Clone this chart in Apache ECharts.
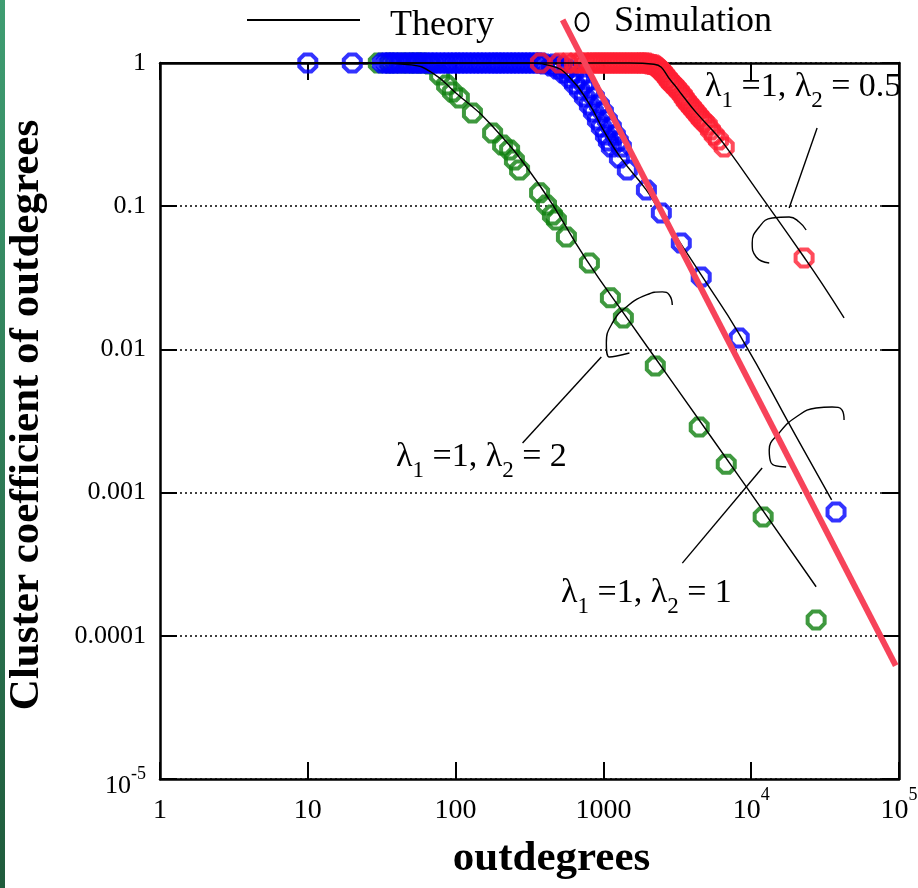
<!DOCTYPE html>
<html>
<head>
<meta charset="utf-8">
<script src="https://cdn.jsdelivr.net/npm/echarts@6/dist/echarts.min.js"></script>
<style>
html,body{margin:0;padding:0;background:#fff;}
#chart{width:918px;height:888px;}
</style>
</head>
<body>
<div id="chart"></div>
<script>
// simulation points (outdegree, cluster coefficient)
const greenSimX = [30, 36, 42, 48, 54, 60, 66.7, 78, 86.9, 95.4, 106, 130, 178, 208, 232, 250, 271, 370, 412, 452, 481, 562, 804, 1115, 1365, 2245, 4450, 6780, 12050, 27500];
const greenSimY = [1, 1, 1, 1, 1, 1, 0.984, 0.824, 0.702, 0.627, 0.570, 0.448, 0.324, 0.267, 0.247, 0.210, 0.179, 0.124, 0.102, 0.0868, 0.080, 0.061, 0.0401, 0.0229, 0.0166, 0.00766, 0.00287, 0.00158, 0.000676, 0.000129];

const blueSimX = [10, 20, 32, 34, 36, 38, 40, 43, 46, 49, 52, 55, 58, 62, 66, 70, 74, 79, 84, 89, 95, 100, 106, 112, 119, 126, 134, 142, 150, 160, 170, 180, 190, 200, 212, 225, 238, 252, 267, 283, 300, 318, 337, 357, 378,
  399, 445, 489, 537, 589, 637, 689, 744, 804, 856, 911, 969, 1032, 1081, 1132, 1283, 1452, 1954, 2466, 3365, 4590, 8300, 37500];
const blueSimY = [1, 1, 1, 1, 1, 1, 1, 1, 1, 1, 1, 1, 1, 1, 1, 1, 1, 1, 1, 1, 1, 1, 1, 1, 1, 1, 1, 1, 1, 1, 1, 1, 1, 1, 1, 1, 1, 1, 1, 1, 1, 1, 1, 1, 1,
  0.984, 0.953, 0.908, 0.851, 0.786, 0.713, 0.648, 0.579, 0.509, 0.455, 0.400, 0.357, 0.314, 0.285, 0.259, 0.217, 0.179, 0.130, 0.0897, 0.0553, 0.032, 0.012, 0.000732];
// second, slightly later stream of the scattered blue band
const blueBandX = [467, 520, 571, 627, 689, 744, 804, 869, 940, 1000, 1064, 1132, 1205, 1262, 1323];
const blueBandY = [0.984, 0.953, 0.908, 0.851, 0.786, 0.713, 0.648, 0.579, 0.509, 0.455, 0.400, 0.357, 0.314, 0.285, 0.259];

const redSimX = [375, 504, 570, 637, 690, 744, 785, 829, 870, 911, 955, 1000, 1050, 1099, 1150, 1205, 1260, 1323, 1385, 1452, 1520, 1595, 1670, 1751, 1820, 1892, 1970,
  2046, 2130, 2213, 2280, 2354, 2430, 2506, 2600, 2707, 2790, 2880, 3000, 3115, 3260, 3420, 3520, 3637, 3780, 3935, 4090, 4250, 4420, 4590, 4800, 5045, 5300, 5623, 6000, 6570, 22800];
const redSimY = [1, 1, 1, 1, 1, 1, 1, 1, 1, 1, 1, 1, 1, 1, 1, 1, 1, 1, 1, 1, 1, 1, 1, 1, 1, 1, 1,
  0.984, 0.976, 0.968, 0.95, 0.923, 0.895, 0.865, 0.83, 0.786, 0.755, 0.725, 0.70, 0.669, 0.635, 0.598, 0.57, 0.543, 0.518, 0.493, 0.47, 0.448, 0.427, 0.406, 0.388, 0.369, 0.34, 0.314, 0.29, 0.259, 0.0435];

// theory curves
const greenThX = [1, 30, 50, 70, 100, 170, 370, 770, 1430, 3000, 9250, 27500];
const greenThY = [1, 1, 0.97, 0.85, 0.62, 0.38, 0.14, 0.042, 0.0168, 0.0057, 0.0011, 0.00022];
const blueThX = [1, 300, 450, 600, 800, 1000, 1300, 1950, 2470, 3370, 4600, 8300, 20000, 35000];
const blueThY = [1, 1, 0.95, 0.78, 0.52, 0.34, 0.22, 0.13, 0.088, 0.054, 0.033, 0.0128, 0.0025, 0.00089];
const redThX = [1, 1500, 2200, 2900, 3400, 4250, 5600, 6570, 12600, 22800, 30000, 42500];
const redThY = [1, 1, 0.98, 0.74, 0.6, 0.45, 0.33, 0.27, 0.105, 0.044, 0.029, 0.0166];

// slope -2 guide line
const refX = [530, 95000];
const refY = [2, 0.000062];

// callouts (leader line + open ellipse)
const lead1X = [27920, 18070], lead1Y = [0.3516, 0.0971];
const arc1X = [23530, 21100, 18070, 13870, 11330, 10160, 10810, 13240];
const arc1Y = [0.0682, 0.0776, 0.0841, 0.0827, 0.0716, 0.0553, 0.0442, 0.0401];
const lead2X = [283.8, 968], lead2Y = [0.00222, 0.00885];
const arc2X = [2924, 2793, 2506, 1954, 1430, 1151, 1047, 1099, 1500];
const arc2Y = [0.0204, 0.0240, 0.0252, 0.0240, 0.0198, 0.0153, 0.0111, 0.00885, 0.00944];
const lead3X = [3420, 11860], lead3Y = [0.000322, 0.001486];
const arc3X = [42500, 41200, 35260, 27480, 20140, 15460, 13240, 13650, 17230];
const arc3Y = [0.003214, 0.00377, 0.00396, 0.0039, 0.00337, 0.00261, 0.00198, 0.00161, 0.00151];

const xTickText = {1: '1', 10: '10', 100: '100', 1000: '1000', 10000: '10{sup|4}', 100000: '10{sup|5}'};
const yTickText = ['{nb|10}{sup|-5}', '0.0001', '0.001', '0.01', '0.1', '1'];

const SERIF = '"Liberation Serif","Times New Roman",serif';
const OCT = 'path://M0.29,0 L0.71,0 L1,0.29 L1,0.71 L0.71,1 L0.29,1 L0,0.71 L0,0.29 Z';

function pairs(xs, ys) {
  return xs.map((x, i) => [x, ys[i]]);
}

function sim(xs, ys, color, z) {
  return {
    type: 'scatter', data: pairs(xs, ys),
    symbol: OCT, symbolSize: 17,
    itemStyle: {color: 'rgba(0,0,0,0)', borderColor: color, borderWidth: 4},
    z: z, silent: true
  };
}

function curve(xs, ys, width, color, z, smooth) {
  return {
    type: 'line', data: pairs(xs, ys), symbol: 'none', smooth: smooth || false,
    lineStyle: {color: color, width: width}, z: z, silent: true, clip: false
  };
}

const xRich = {
  n: {fontFamily: SERIF, fontSize: 28, color: '#000', lineHeight: 30, padding: [11, 0, 0, 0], verticalAlign: 'top'},
  sup: {fontFamily: SERIF, fontSize: 18, color: '#000', lineHeight: 18, verticalAlign: 'top'}
};
const yRich = {
  n: {fontFamily: SERIF, fontSize: 26, color: '#000', lineHeight: 28},
  nb: {fontFamily: SERIF, fontSize: 26, color: '#000', lineHeight: 28, padding: [8, 0, 0, 0], verticalAlign: 'top'},
  sup: {fontFamily: SERIF, fontSize: 18, color: '#000', lineHeight: 18, verticalAlign: 'top'}
};

const lamRich = {
  t: {fontFamily: SERIF, fontSize: 34, lineHeight: 38, verticalAlign: 'top', fill: '#000'},
  s: {fontFamily: SERIF, fontSize: 23, lineHeight: 27, padding: [19, 0, 0, 0], verticalAlign: 'top', fill: '#000'}
};

function lamText(x, y, v2) {
  return {
    type: 'text', x: x, y: y, z: 100,
    style: {text: '{t|λ}{s|1}{t| =1, λ}{s|2}{t| = ' + v2 + '}', rich: lamRich, fill: '#000'}
  };
}

let myChart = echarts.init(document.getElementById('chart'));

const axisLine = {onZero: false, lineStyle: {color: '#000', width: 2.5}};
const axisTick = {inside: true, length: 17, lineStyle: {color: '#000', width: 2}};

myChart.setOption({
  backgroundColor: '#fff',
  animation: false,
  grid: {left: 160, right: 19, top: 63, bottom: 109, containLabel: false, outerBoundsMode: 'none'},
  xAxis: [
    {
      type: 'log', logBase: 10, min: 1, max: 100000, position: 'bottom',
      axisLine: axisLine, axisTick: axisTick, splitLine: {show: false},
      axisLabel: {
        margin: 7,
        formatter: v => {
          const t = xTickText[Math.round(v)] || String(v);
          return t.replace(/^(\d+)/, '{n|$1}');
        },
        rich: xRich
      },
      name: 'outdegrees', nameLocation: 'middle', nameGap: 58,
      nameTextStyle: {fontFamily: SERIF, fontWeight: 'bold', fontSize: 43, color: '#000', padding: [0, 0, 0, 44]}
    },
    {
      type: 'log', logBase: 10, min: 1, max: 100000, position: 'top',
      axisLine: axisLine, axisTick: axisTick, axisLabel: {show: false}, splitLine: {show: false}
    }
  ],
  yAxis: [
    {
      type: 'log', logBase: 10, min: 0.00001, max: 1, position: 'left',
      axisLine: axisLine, axisTick: axisTick,
      splitLine: {show: true, lineStyle: {color: '#000', width: 1.5, type: [2, 3]}},
      axisLabel: {
        margin: 14,
        formatter: (v, i) => {
          const t = yTickText[i] !== undefined ? yTickText[i] : String(v);
          return t.replace(/^([\d.]+)/, '{n|$1}');
        },
        rich: yRich
      },
      name: 'Cluster coefficient of outdegrees', nameLocation: 'middle', nameGap: 112,
      nameTextStyle: {fontFamily: SERIF, fontWeight: 'bold', fontSize: 43, color: '#000', padding: [0, 0, 0, 12]}
    },
    {
      type: 'log', logBase: 10, min: 0.00001, max: 1, position: 'right',
      axisLine: axisLine, axisTick: axisTick, axisLabel: {show: false}, splitLine: {show: false}
    }
  ],
  series: [
    sim(greenSimX, greenSimY, '#0f800f', 3),
    sim(blueSimX, blueSimY, '#0000ff', 4),
    sim(blueBandX, blueBandY, '#0000ff', 4),
    sim(redSimX, redSimY, '#ff1e32', 5),
    curve(greenThX, greenThY, 1.4, '#000', 6, true),
    curve(blueThX, blueThY, 1.4, '#000', 6, true),
    curve(redThX, redThY, 1.4, '#000', 6, true),
    curve(lead1X, lead1Y, 1.4, '#000', 6),
    curve(arc1X, arc1Y, 1.4, '#000', 6, 0.5),
    curve(lead2X, lead2Y, 1.4, '#000', 6),
    curve(arc2X, arc2Y, 1.4, '#000', 6, 0.5),
    curve(lead3X, lead3Y, 1.4, '#000', 6),
    curve(arc3X, arc3Y, 1.4, '#000', 6, 0.5),
    curve(refX, refY, 6, '#f7435a', 8)
  ],
  graphic: [
    {
      type: 'rect', shape: {x: 0, y: 0, width: 5, height: 888}, z: 100,
      style: {fill: new echarts.graphic.LinearGradient(0, 0, 0, 1, [
        {offset: 0, color: '#3f9d72'}, {offset: 1, color: '#1f5b3c'}
      ])}
    },
    // legend
    {type: 'line', shape: {x1: 247, y1: 20, x2: 360, y2: 20}, style: {stroke: '#000', lineWidth: 2}, z: 100},
    {type: 'text', x: 390, y: 26, z: 100, style: {text: 'Theory', fontFamily: SERIF, fontSize: 36, fill: '#000', verticalAlign: 'middle'}},
    {type: 'ellipse', shape: {cx: 582, cy: 22, rx: 6.5, ry: 9}, style: {fill: 'none', stroke: '#000', lineWidth: 2}, z: 100},
    {type: 'text', x: 614, y: 22, z: 100, style: {text: 'Simulation', fontFamily: SERIF, fontSize: 36, fill: '#000', verticalAlign: 'middle'}},
    // curve labels
    lamText(705, 70, '0.5'),
    lamText(396, 440, '2'),
    lamText(561, 576, '1')
  ]
});
</script>
</body>
</html>
